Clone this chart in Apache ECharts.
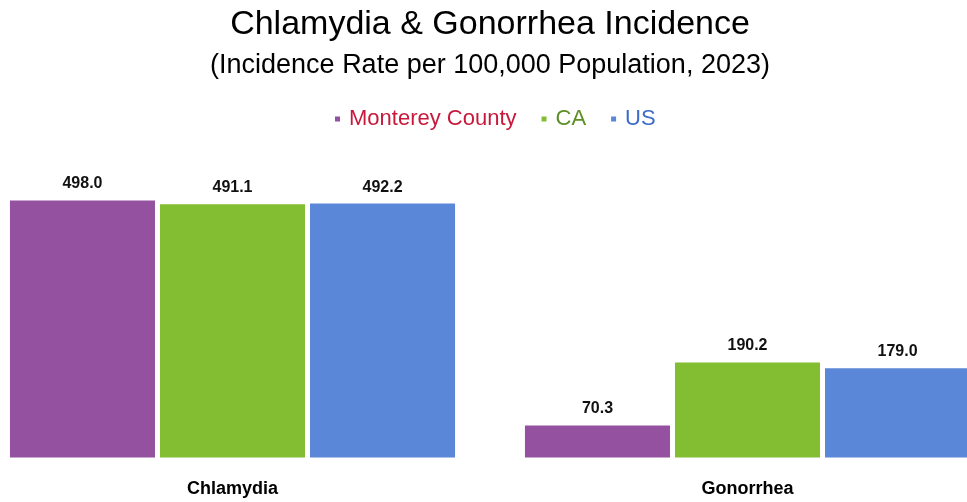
<!DOCTYPE html>
<html>
<head>
<meta charset="utf-8">
<script src="https://cdn.jsdelivr.net/npm/echarts@6/dist/echarts.min.js"></script>
<style>html,body{margin:0;padding:0;background:#fff;overflow:hidden;width:967px;height:502px}#c{position:absolute;left:-25px;top:0;width:1030px;height:502px}</style>
</head>
<body>
<div id="c"></div>
<script>
const categories = ['Chlamydia', 'Gonorrhea'];
const seriesNames = ['Monterey County', 'CA', 'US'];
const montereyValues = [498.0, 70.3];
const caValues = [491.1, 190.2];
const usValues = [492.2, 179.0];
const barColors = ['#9351A0', '#82BD32', '#5B87D8'];
const legendTextColors = ['#C8193C', '#5C8F24', '#3D6CC9'];

const font = '"Liberation Sans", Arial, sans-serif';
const values = [montereyValues, caValues, usValues];

const chart = echarts.init(document.getElementById('c'), null, {renderer: 'canvas'});
chart.setOption({
  animation: false,
  backgroundColor: '#fff',
  title: {
    text: 'Chlamydia & Gonorrhea Incidence',
    subtext: '(Incidence Rate per 100,000 Population, 2023)',
    left: 'center',
    top: 3,
    itemGap: 10,
    textStyle: {fontFamily: font, fontSize: 34, fontWeight: 'normal', color: '#000'},
    subtextStyle: {fontFamily: font, fontSize: 27, color: '#000'}
  },
  legend: {
    top: 103,
    left: 353,
    itemWidth: 7,
    itemHeight: 7,
    itemGap: 23,
    icon: 'rect',
    textStyle: {fontFamily: font, fontSize: 22, padding: [0, 0, 0, 3]},
    data: seriesNames.map((n, i) => ({name: n, textStyle: {color: legendTextColors[i]}}))
  },
  grid: {left: 0, right: 0, top: 197, bottom: 42, containLabel: false},
  xAxis: {
    type: 'category',
    data: categories,
    axisLine: {show: false},
    axisTick: {show: false},
    axisLabel: {fontFamily: font, fontSize: 18, fontWeight: 'bold', color: '#000', margin: 20}
  },
  yAxis: {
    type: 'value', min: 0, max: 500, show: false,
    splitLine: {show: false}
  },
  series: seriesNames.map((n, i) => ({
    name: n,
    type: 'bar',
    data: values[i],
    barGap: '0%',
    barCategoryGap: '12.6%',
    itemStyle: {color: barColors[i], borderColor: '#fff', borderWidth: 2.5},
    label: {
      show: true, position: 'top', distance: 6,
      fontFamily: font, fontSize: 16, fontWeight: 'bold', color: '#111',
      formatter: p => p.value.toFixed(1)
    }
  }))
});
</script>
</body>
</html>
